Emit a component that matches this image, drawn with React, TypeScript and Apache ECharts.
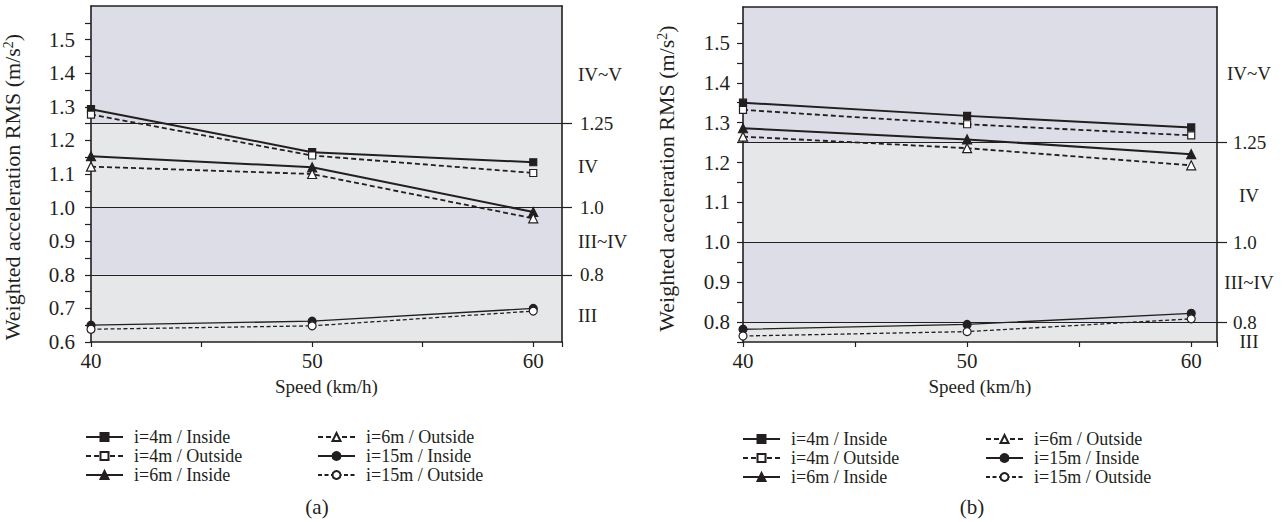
import React, { useEffect, useRef } from 'react';
import * as echarts from 'echarts';

// ---- data ----
const speeds = [40, 50, 60];
const seriesNames = [
  'i=4m / Inside',
  'i=4m / Outside',
  'i=6m / Inside',
  'i=6m / Outside',
  'i=15m / Inside',
  'i=15m / Outside',
];
// panel (a)
const a4In = [1.293, 1.165, 1.135];
const a4Out = [1.277, 1.155, 1.103];
const a6In = [1.153, 1.12, 0.987];
const a6Out = [1.122, 1.1, 0.968];
const a15In = [0.65, 0.662, 0.7];
const a15Out = [0.638, 0.648, 0.692];
// panel (b)
const b4In = [1.35, 1.317, 1.288];
const b4Out = [1.332, 1.296, 1.268];
const b6In = [1.286, 1.258, 1.221];
const b6Out = [1.265, 1.236, 1.193];
const b15In = [0.782, 0.794, 0.822];
const b15Out = [0.765, 0.776, 0.808];

const thresholds = [0.8, 1.0, 1.25];
const zoneNames = ['III', 'III~IV', 'IV', 'IV~V'];
const panelLabels = ['(a)', '(b)'];
const xName = 'Speed (km/h)';
const yName = 'Weighted acceleration RMS (m/s{sup|2})';

// ---- styles ----
const INK = '#231f20';
const FONT = 'Liberation Serif, serif';
const LAV = '#dcdde6';
const GRAY = '#e6e7e8';
const zoneColors = [GRAY, LAV, GRAY, LAV];

const seriesStyles = [
  { symbol: 'rect', size: 7, fill: INK, dash: 'solid', width: 2 },
  { symbol: 'rect', size: 7, fill: '#ffffff', dash: [5, 3], width: 1.8 },
  { symbol: 'triangle', size: 9, fill: INK, dash: 'solid', width: 2 },
  { symbol: 'triangle', size: 9, fill: '#ffffff', dash: [5, 3], width: 1.8 },
  { symbol: 'circle', size: 8, fill: INK, dash: 'solid', width: 1.3 },
  { symbol: 'circle', size: 8, fill: '#ffffff', dash: [4, 2.5], width: 1.3 },
];

type Panel = {
  values: number[][];
  grid: { left: number; top: number; width: number; height: number };
  yMin: number;
  yMax: number;
  xMax: number;
  yLabelMargin: number;
  yNameGap: number;
  yNamePad: number[];
  rightLabelMargin: number;
  zoneDistance: number;
  zoneAlign: string;
  zoneOffsets: number[];
};

const panels: Panel[] = [
  {
    values: [a4In, a4Out, a6In, a6Out, a15In, a15Out],
    grid: { left: 86, top: 6, width: 476, height: 336 },
    yMin: 0.6,
    yMax: 1.6,
    xMax: 61.3,
    yLabelMargin: 16,
    yNameGap: 68,
    yNamePad: [0, 26, 0, 0],
    rightLabelMargin: 18,
    zoneDistance: 16,
    zoneAlign: 'left',
    zoneOffsets: [7, 0, 1, 9.5],
  },
  {
    values: [b4In, b4Out, b6In, b6Out, b15In, b15Out],
    grid: { left: 743, top: 7, width: 474, height: 335 },
    yMin: 0.75,
    yMax: 1.59,
    xMax: 61.15,
    yLabelMargin: 13,
    yNameGap: 66,
    yNamePad: [0, 8, 0, 0],
    rightLabelMargin: 16,
    zoneDistance: 32,
    zoneAlign: 'center',
    zoneOffsets: [9, 0, 3, -1],
  },
];

function buildOption() {
  const grids: any[] = [];
  const xAxes: any[] = [];
  const yAxes: any[] = [];
  const series: any[] = [];

  panels.forEach((p, gi) => {
    grids.push({ ...p.grid, containLabel: false, show: false });
    // bottom x axis
    xAxes.push({
      type: 'value',
      gridIndex: gi,
      min: 40,
      max: p.xMax,
      interval: 5,
      z: 4,
      name: xName,
      nameLocation: 'middle',
      nameGap: 35,
      nameTextStyle: { fontFamily: FONT, fontSize: 19, color: INK },
      axisLine: { show: true, onZero: false, lineStyle: { color: INK, width: 1.6 } },
      axisTick: { show: true, inside: false, length: 5, lineStyle: { color: INK, width: 1.2 } },
      splitLine: { show: false },
      axisLabel: {
        fontFamily: FONT,
        fontSize: 21,
        color: INK,
        margin: 8,
        formatter: (v: number) => (Math.abs(v % 10) < 1e-6 ? String(v) : ''),
      },
    });
    // top x axis (border)
    xAxes.push({
      type: 'value',
      gridIndex: gi,
      position: 'top',
      min: 40,
      max: p.xMax,
      z: 4,
      axisLine: { show: true, onZero: false, lineStyle: { color: INK, width: 1.6 } },
      axisTick: { show: false },
      axisLabel: { show: false },
      splitLine: { show: false },
    });
    // left y axis
    yAxes.push({
      type: 'value',
      gridIndex: gi,
      min: p.yMin,
      max: p.yMax,
      interval: 0.05,
      z: 4,
      name: yName,
      nameLocation: 'middle',
      nameGap: p.yNameGap,
      nameRotate: 90,
      nameTextStyle: {
        fontFamily: FONT,
        fontSize: 22,
        color: INK,
        padding: p.yNamePad,
        rich: {
          sup: { fontFamily: FONT, fontSize: 14, color: INK, verticalAlign: 'top', lineHeight: 22 },
        },
      },
      axisLine: { show: true, onZero: false, lineStyle: { color: INK, width: 1.6 } },
      axisTick: { show: true, inside: false, length: 6, lineStyle: { color: INK, width: 1.2 } },
      splitLine: { show: false },
      axisLabel: {
        fontFamily: FONT,
        fontSize: 21,
        color: INK,
        margin: p.yLabelMargin,
        showMaxLabel: false,
        formatter: (v: number) => (Math.round(v * 100) % 10 === 0 ? v.toFixed(1) : ''),
      },
    });
    // right y axis with threshold ticks
    yAxes.push({
      type: 'value',
      gridIndex: gi,
      position: 'right',
      min: p.yMin,
      max: p.yMax,
      z: 4,
      axisLine: { show: true, onZero: false, lineStyle: { color: INK, width: 1.6 } },
      axisTick: {
        show: true,
        inside: false,
        length: 10,
        customValues: thresholds,
        lineStyle: { color: INK, width: 1.2 },
      },
      splitLine: { show: false },
      axisLabel: {
        show: true,
        customValues: thresholds,
        fontFamily: FONT,
        fontSize: 19,
        lineHeight: 14,
        color: INK,
        margin: p.rightLabelMargin,
        formatter: (v: number) => (Math.abs(v - 1) < 1e-9 ? '1.0' : String(v)),
      },
    });

    const bounds = [p.yMin, ...thresholds, p.yMax];
    const areas = zoneNames.map((name, zi) => [
      {
        yAxis: bounds[zi],
        name,
        itemStyle: { color: zoneColors[zi], opacity: 1 },
        label: { offset: [0, p.zoneOffsets[zi]] },
      },
      { yAxis: bounds[zi + 1] },
    ]);

    series.push({
      type: 'line',
      name: '_bands' + gi,
      xAxisIndex: gi * 2,
      yAxisIndex: gi * 2,
      data: [],
      z: 1,
      silent: true,
      markArea: {
        silent: true,
        label: {
          show: true,
          position: 'right',
          distance: p.zoneDistance,
          align: p.zoneAlign,
          fontFamily: FONT,
          fontSize: 19,
          lineHeight: 14,
          color: INK,
        },
        data: areas,
      },
    });
    series.push({
      type: 'line',
      name: '_limits' + gi,
      xAxisIndex: gi * 2,
      yAxisIndex: gi * 2,
      data: [],
      z: 2,
      silent: true,
      markLine: {
        silent: true,
        symbol: 'none',
        label: { show: false },
        lineStyle: { color: INK, width: 1.2, type: 'solid' },
        data: thresholds.map((t) => ({ yAxis: t })),
      },
    });

    p.values.forEach((vals, si) => {
      const st = seriesStyles[si];
      series.push({
        type: 'line',
        name: seriesNames[si],
        xAxisIndex: gi * 2,
        yAxisIndex: gi * 2,
        data: speeds.map((s, i) => [s, vals[i]]),
        symbol: st.symbol,
        symbolSize: st.size,
        showAllSymbol: true,
        z: 6,
        lineStyle: { color: INK, width: st.width, type: st.dash },
        itemStyle: { color: st.fill, borderColor: INK, borderWidth: 1.2 },
        emphasis: { disabled: true },
      });
    });
  });

  const legendBase = {
    orient: 'vertical',
    padding: 0,
    itemGap: 1,
    itemWidth: 37,
    itemHeight: 10,
    selectedMode: false,
    textStyle: { fontFamily: FONT, fontSize: 18, color: INK, padding: [0, 0, 0, 6] },
  };
  const legends = [
    { ...legendBase, left: 85, top: 428, data: seriesNames.slice(0, 3) },
    { ...legendBase, left: 317, top: 428, data: seriesNames.slice(3) },
    { ...legendBase, left: 742, top: 430, data: seriesNames.slice(0, 3) },
    { ...legendBase, left: 985, top: 430, data: seriesNames.slice(3) },
  ];

  const labelXs = [317, 972];
  const graphic = panelLabels.map((t, i) => ({
    type: 'text',
    x: labelXs[i],
    y: 507,
    style: { text: t, fontFamily: FONT, fontSize: 21, fill: INK, align: 'center', verticalAlign: 'middle' },
  }));

  return {
    animation: false,
    backgroundColor: '#ffffff',
    grid: grids,
    xAxis: xAxes,
    yAxis: yAxes,
    legend: legends,
    series,
    graphic,
  };
}

export default function App() {
  const ref = useRef<HTMLDivElement>(null);
  useEffect(() => {
    if (!ref.current) return;
    const chart = echarts.init(ref.current, undefined, { renderer: 'svg' });
    chart.setOption(buildOption() as any);
    return () => chart.dispose();
  }, []);
  return (
    <div
      ref={ref}
      style={{ position: 'fixed', left: 0, top: 0, width: 1287, height: 522, background: '#fff' }}
    />
  );
}
